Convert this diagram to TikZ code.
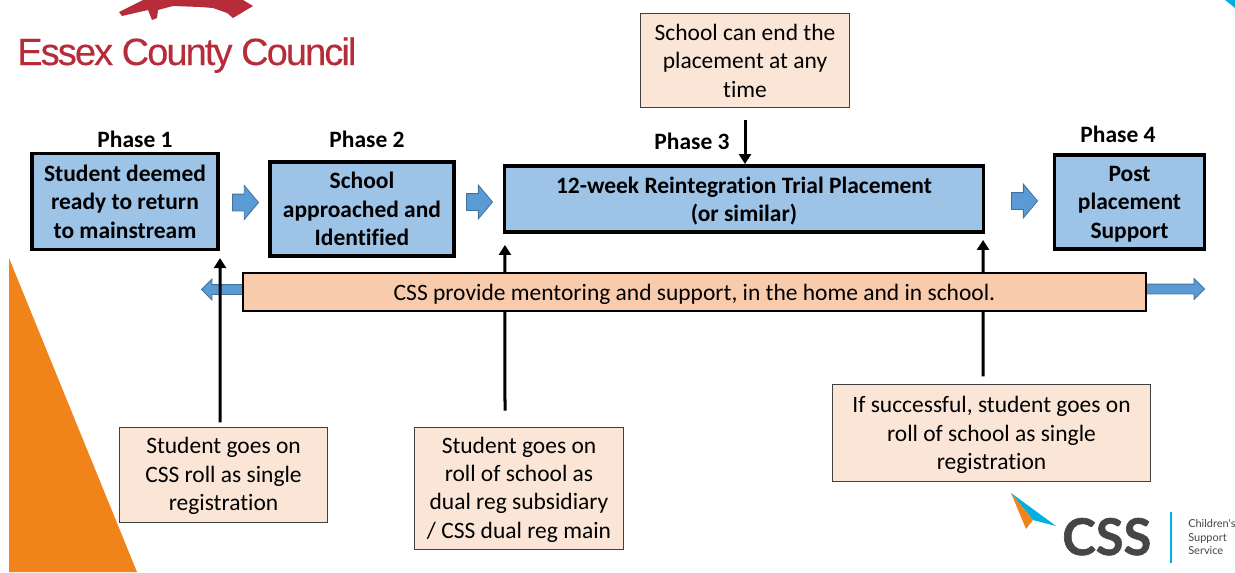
\documentclass[tikz,border=0pt]{standalone}
\usepackage{fontspec}
\setmainfont[Ligatures=NoCommon]{Carlito}
\newfontfamily\logofont[LetterSpace=-5, FakeBold=0.3]{Liberation Sans}
\newfontfamily\cssfont[BoldFeatures={FakeBold=1.2}]{Lato}
\definecolor{boxblue}{RGB}{157, 195, 230}
\definecolor{arrowblue}{RGB}{91, 155, 213}
\definecolor{arrowedge}{RGB}{65, 113, 156}
\definecolor{notepeach}{RGB}{251, 229, 214}
\definecolor{barpeach}{RGB}{248, 203, 173}
\definecolor{essexred}{RGB}{182, 44, 58}
\definecolor{cornerorange}{RGB}{240, 132, 26}
\definecolor{csscyan}{RGB}{0, 176, 224}
\definecolor{cssgrey}{RGB}{70, 70, 72}
\usetikzlibrary{shapes, arrows.meta, positioning}

\begin{document}
\begin{tikzpicture}[
  x=0.025cm, y=-0.025cm,
  phasebox/.style={draw, line width=0.0875cm, fill=boxblue, align=center, inner sep=0pt, text depth=0pt, font=\fontsize{16.7}{20.2}\selectfont\bfseries},
  phaselabel/.style={inner sep=0pt, font=\fontsize{16.7}{20.2}\selectfont\bfseries},
  notebox/.style={draw=black!75, line width=0.025cm, fill=notepeach, align=center, inner sep=0pt, text depth=0pt, font=\fontsize{16.7}{20.2}\selectfont},
  bararrow/.style={single arrow, draw=arrowedge, line width=0.02cm, fill=arrowblue},
  stepflow/.style={bararrow, inner sep=0.2cm, minimum height=0.65cm, single arrow head extend=0.2125cm, single arrow tip angle=100},
  longflow/.style={bararrow, inner sep=0.1125cm, single arrow head extend=0.1375cm, single arrow tip angle=90},
  upflow/.style={-{Triangle[width=0.3cm, length=0.25cm]}, line width=0.075cm}
]
  \useasboundingbox (0, 0) rectangle (1235, 572);

  % corners
  \fill[cornerorange] (9, 258) -- (137, 572) -- (9, 572) -- cycle;
  \fill[csscyan] (1225, 0) -- (1235, 0) -- (1235, 8) -- cycle;

  % logos
  \fill[essexred] (119, 12) -- (143, 0) -- (243, 0) -- (253, 6) -- (233, 18) -- (227, 13) -- (213, 8) -- (200, 7) -- (173, 6) -- (158, 10) -- (157, 18) -- (152, 20) -- (148, 10) -- (122, 16) -- cycle;
  \node[inner sep=0pt, anchor=base west, text=essexred, font=\logofont\fontsize{27}{27}\selectfont] (essex) at (17, 65) {Essex County Council};
  \fill[csscyan] (1011, 493) -- (1056, 526) -- (1033, 520) -- cycle;
  \fill[cornerorange] (1011, 493) -- (1033, 520) -- (1026, 529) -- cycle;
  \node[inner sep=0pt, anchor=base west, text=cssgrey, font=\cssfont\bfseries\fontsize{36}{36}\selectfont] (css) at (1062, 555) {CSS};
  \draw[csscyan, line width=0.04cm] (1171, 512) -- (1171, 563);
  \node[inner sep=0pt, anchor=west, align=left, text=cssgrey, font=\cssfont\fontsize{7.8}{9.3}\selectfont] (cssname) at (1188, 537) {Children's\\Support\\Service};

  % phases
  \node[phaselabel] (label1) at (135, 139) {Phase 1};
  \node[phaselabel] (label2) at (367, 139) {Phase 2};
  \node[phaselabel] (label3) at (692, 141) {Phase 3};
  \node[phaselabel] (label4) at (1118, 134) {Phase 4};
  \node[phasebox, minimum width=4.66cm, minimum height=2.39cm] (phase1) at (125, 201.5) {Student deemed\\ready to return\\to mainstream};
  \node[phasebox, minimum width=4.61cm, minimum height=2.36cm] (phase2) at (362, 209) {School\\approached and\\Identified};
  \node[phasebox, minimum width=11.96cm, minimum height=1.66cm] (phase3) at (744, 199) {12-week Reintegration Trial Placement\\(or similar)};
  \node[phasebox, minimum width=3.74cm, minimum height=2.36cm] (phase4) at (1129.5, 202) {Post\\placement\\Support};

  \node[stepflow] (flow1) at (242, 202.5) {};
  \node[stepflow] (flow2) at (476, 202) {};
  \node[stepflow] (flow3) at (1021, 201) {};
  \node[longflow, minimum height=1.1cm, shape border rotate=180] (backflow) at (226, 289.5) {};
  \node[longflow, minimum height=1.5cm] (onflow) at (1172, 289) {};

  % notes
  \node[notebox, minimum width=5.2cm, minimum height=2.37cm] (endnote) at (745, 60.5) {School can end the\\placement at any\\time};
  \node[notebox, text depth=1.4pt, minimum width=5.18cm, minimum height=2.35cm] (note1) at (223.5, 475) {Student goes on\\CSS roll as single\\registration};
  \node[notebox, text depth=1.4pt, minimum width=5.2cm, minimum height=3.07cm] (note2) at (519, 488.5) {Student goes on\\roll of school as\\dual reg subsidiary\\/ CSS dual reg main};
  \node[notebox, minimum width=7.93cm, minimum height=2.4cm] (note3) at (991.5, 433) {If successful, student goes on\\roll of school as single\\registration};

  \draw[upflow] ([yshift=-0.3cm]endnote.south) -- ([xshift=0.025cm]phase3.north);
  \draw[upflow] ([xshift=-0.0875cm, yshift=0.125cm]note1.north) -- ([xshift=2.375cm, yshift=-0.175cm]phase1.south);
  \draw[upflow] ([xshift=-0.35cm, yshift=0.4cm]note2.north) -- ([xshift=-5.975cm, yshift=-0.275cm]phase3.south);
  \draw[upflow] ([xshift=-0.2125cm, yshift=0.2cm]note3.north) -- ([xshift=5.975cm, yshift=-0.15cm]phase3.south);

  \node[draw, line width=0.0625cm, fill=barpeach, inner sep=0pt, text depth=0pt, minimum width=22.56cm, minimum height=0.94cm, font=\fontsize{16.7}{20.2}\selectfont] (support) at (694.5, 292) {CSS provide mentoring and support, in the home and in school.};
\end{tikzpicture}
\end{document}
